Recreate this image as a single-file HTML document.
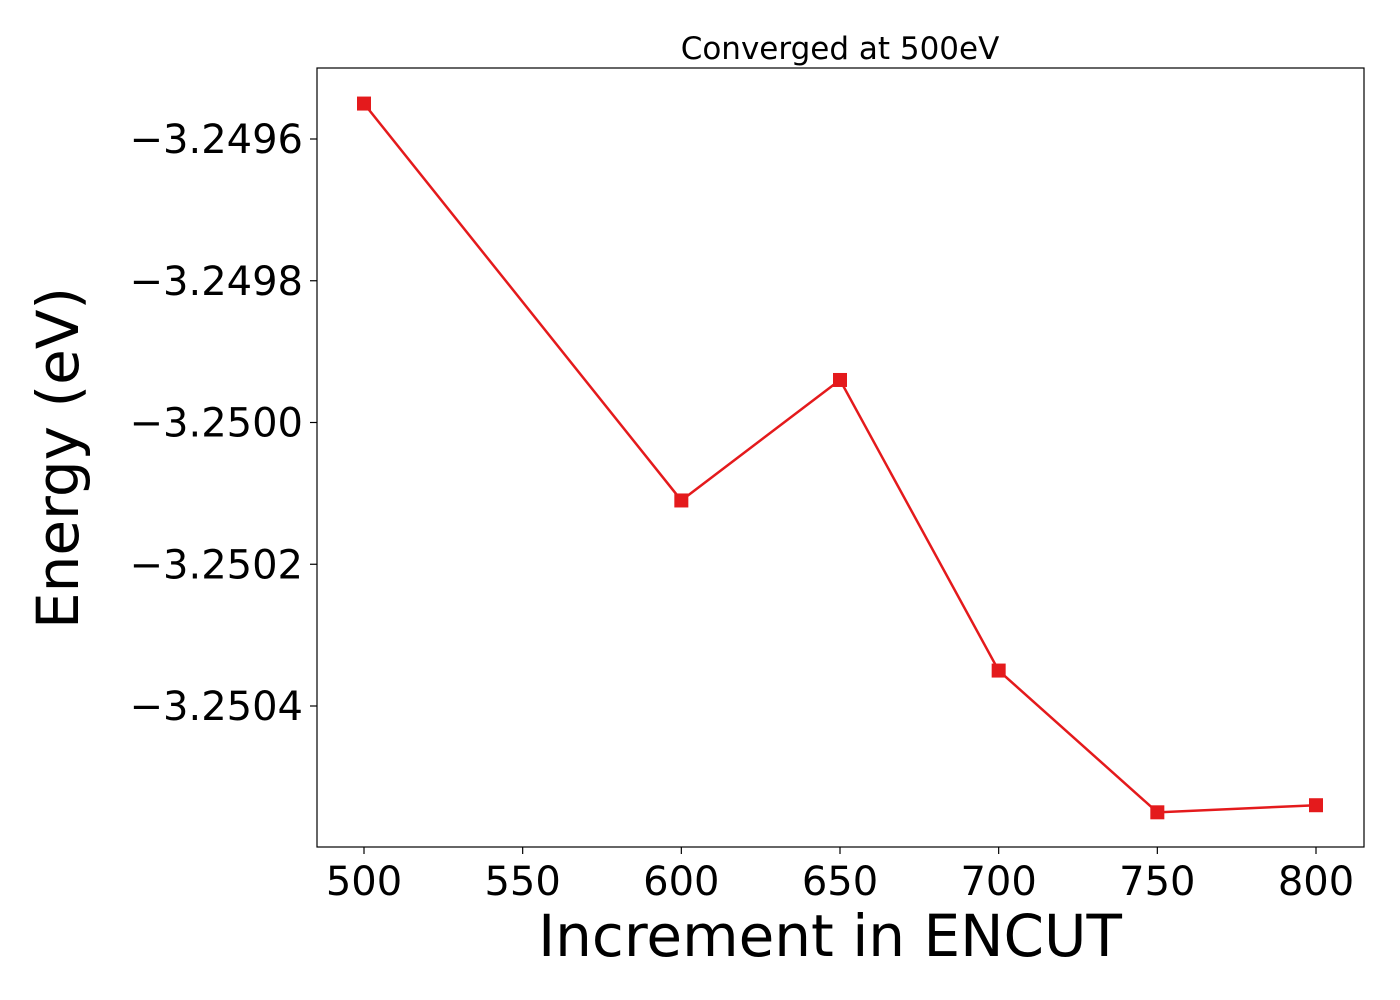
<!DOCTYPE html>
<html><head><meta charset="utf-8"><style>
body{margin:0;background:#fff;}
svg{display:block;font-family:"DejaVu Sans","Liberation Sans",sans-serif;}
</style></head><body>
<svg id="chart" width="1400" height="1000">
<text x="840" y="59" font-size="31" text-anchor="middle">Converged at 500eV</text>
<rect x="317" y="68" width="1047" height="779" fill="none" stroke="#000" stroke-width="1.2"/>
<g id="xt"></g>
<g id="yt"></g>
<text x="830" y="956" font-size="58" text-anchor="middle">Increment in ENCUT</text>
<text transform="translate(78,458) rotate(-90)" font-size="58" text-anchor="middle">Energy (eV)</text>
<g id="series"></g>
</svg>
<script>
const encut=[500,600,650,700,750,800];
const energy=[-3.24955,-3.25011,-3.24994,-3.25035,-3.25055,-3.25054];
const xTicks=[500,550,600,650,700,750,800];
const yTicks=[-3.2496,-3.2498,-3.2500,-3.2502,-3.2504];
const yTickLabels=["−3.2496","−3.2498","−3.2500","−3.2502","−3.2504"];
const NS="http://www.w3.org/2000/svg";
function xs(v){return 364+(v-500)*(952/300);}
function ys(v){return 139+(-3.2496-v)*708750;}
function mk(t,a,p){const e=document.createElementNS(NS,t);for(const k in a)e.setAttribute(k,a[k]);p.appendChild(e);return e;}
const xt=document.getElementById('xt'),yt=document.getElementById('yt'),s=document.getElementById('series');
xTicks.forEach(v=>{
 const l=mk('line',{x1:xs(v),x2:xs(v),y1:847,y2:854,stroke:'#000','stroke-width':1.2},xt);
 
 
 const t=mk('text',{x:xs(v),y:895,'font-size':40,'text-anchor':'middle'},xt);t.textContent=v;
 
 
});
yTicks.forEach((v,i)=>{
 const l=mk('line',{x1:310,x2:317,y1:ys(v),y2:ys(v),stroke:'#000','stroke-width':1.2},yt);
 
 
 const t=mk('text',{x:303,y:ys(v)+14,'font-size':40,'text-anchor':'end'},yt);t.textContent=yTickLabels[i];
 
 
});
const pl=mk('polyline',{points:encut.map((x,i)=>xs(x)+','+ys(energy[i])).join(' '),fill:'none',stroke:'#e41a1c','stroke-width':2.5},s);


encut.forEach((x,i)=>{
 const r=mk('rect',{x:xs(x)-7,y:ys(energy[i])-7,width:14,height:14,fill:'#e41a1c'},s);
 
 
});
</script>
</body></html>
